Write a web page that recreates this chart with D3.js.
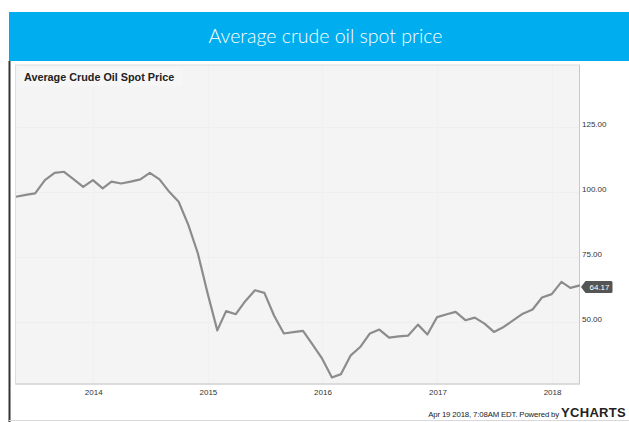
<!DOCTYPE html>
<html>
<head>
<meta charset="utf-8">
<script src="https://cdn.jsdelivr.net/npm/d3@7"></script>
<style>
  html, body { margin: 0; padding: 0; background: #fff; }
  svg { display: block; }
</style>
</head>
<body>
<svg id="chart" width="629" height="422"></svg>
<script>
// ---- Data (monthly averages) ----
const months = [
  "2013-04","2013-05","2013-06","2013-07","2013-08","2013-09","2013-10","2013-11","2013-12",
  "2014-01","2014-02","2014-03","2014-04","2014-05","2014-06","2014-07","2014-08","2014-09","2014-10","2014-11","2014-12",
  "2015-01","2015-02","2015-03","2015-04","2015-05","2015-06","2015-07","2015-08","2015-09","2015-10","2015-11","2015-12",
  "2016-01","2016-02","2016-03","2016-04","2016-05","2016-06","2016-07","2016-08","2016-09","2016-10","2016-11","2016-12",
  "2017-01","2017-02","2017-03","2017-04","2017-05","2017-06","2017-07","2017-08","2017-09","2017-10","2017-11","2017-12",
  "2018-01","2018-02","2018-03"
];
const prices = [
  98.2, 98.9, 99.5, 104.6, 107.4, 107.8, 104.9, 102.0, 104.6,
  101.4, 104.0, 103.3, 104.0, 104.9, 107.4, 104.9, 100.1, 96.3, 87.3, 76.5, 61.2,
  46.9, 54.3, 53.1, 58.1, 62.3, 61.3, 52.5, 45.7, 46.2, 46.7, 41.5, 36.0,
  28.8, 30.1, 37.3, 40.5, 45.7, 47.2, 44.1, 44.6, 44.9, 49.1, 45.3, 52.0,
  53.1, 54.0, 50.8, 51.8, 49.5, 46.3, 48.2, 50.8, 53.3, 54.9, 59.5, 60.8,
  65.5, 63.2, 64.17
];
const yTicks = [50, 75, 100, 125];
const xTickYears = [2014, 2015, 2016, 2017, 2018];
const headerTitle = "Average crude oil spot price";
const chartTitle = "Average Crude Oil Spot Price";
const lastLabel = "64.17";
const footerText = "Apr 19 2018, 7:08AM EDT. Powered by ";
const brandText = "YCHARTS";

// ---- Layout ----
const svg = d3.select("#chart");
const panel = { left: 15.5, right: 579.5, top: 65, bottom: 384 };

const parseMonth = d3.utcParse("%Y-%m");
// monthly values plotted at month end
const data = months.map((m, i) => {
  const start = parseMonth(m);
  return { date: d3.utcDay.offset(d3.utcMonth.offset(start, 1), -1), value: prices[i] };
});

const x = d3.scaleUtc()
  .domain([data[0].date, data[data.length - 1].date])
  .range([16, 580]);
const y = d3.scaleLinear()
  .domain([26.3, 148.8])
  .range([panel.bottom, panel.top]);

// Header band
svg.append("rect").attr("x", 9).attr("y", 12).attr("width", 620).attr("height", 49).attr("fill", "#00aeef");
svg.append("text").attr("x", 325.5).attr("y", 43)
  .attr("text-anchor", "middle")
  .attr("font-family", "Lato, 'Open Sans', sans-serif").attr("font-weight", 300)
  .attr("font-size", 19.5).attr("fill", "#ffffff")
  .text(headerTitle);

// outer frame: left dark line and bottom light line
svg.append("line").attr("x1", 9.5).attr("x2", 9.5).attr("y1", 61).attr("y2", 422)
  .attr("stroke", "#333").attr("stroke-width", 2);
svg.append("line").attr("x1", 9).attr("x2", 629).attr("y1", 420.5).attr("y2", 420.5)
  .attr("stroke", "#d8d8d8").attr("stroke-width", 1);

// Plot panel
svg.append("rect")
  .attr("x", panel.left).attr("y", panel.top)
  .attr("width", panel.right - panel.left).attr("height", panel.bottom - panel.top)
  .attr("fill", "#f4f4f4").attr("stroke", "#dedede").attr("stroke-width", 1);
svg.append("line").attr("x1", panel.right).attr("x2", panel.right)
  .attr("y1", panel.top).attr("y2", panel.bottom).attr("stroke", "#c8c8c8");
svg.append("line").attr("x1", panel.left).attr("x2", panel.right)
  .attr("y1", panel.bottom).attr("y2", panel.bottom).attr("stroke", "#d6d6d6").attr("stroke-width", 1.5);

// faint gridlines
const grid = svg.append("g");
grid.selectAll("line.h").data(yTicks).join("line")
  .attr("x1", panel.left + 1).attr("x2", panel.right - 1)
  .attr("y1", d => Math.round(y(d)) + 0.5).attr("y2", d => Math.round(y(d)) + 0.5)
  .attr("stroke", "#eeeeee");
grid.selectAll("line.v").data(xTickYears).join("line")
  .attr("x1", d => Math.round(x(Date.UTC(d, 0, 1))) + 0.5)
  .attr("x2", d => Math.round(x(Date.UTC(d, 0, 1))) + 0.5)
  .attr("y1", panel.top + 1).attr("y2", panel.bottom - 1)
  .attr("stroke", "#f0f0f0");

// Chart title with light backing
svg.append("rect").attr("x", 20).attr("y", 68).attr("width", 162).attr("height", 18).attr("fill", "#f6f6f6");
svg.append("text").attr("x", 24).attr("y", 80.5)
  .attr("font-family", "'Liberation Sans', Arial, sans-serif").attr("font-weight", "bold")
  .attr("font-size", 10.8).attr("fill", "#222")
  .text(chartTitle);

// Line
const line = d3.line().x(d => x(d.date)).y(d => y(d.value));
svg.append("path").datum(data)
  .attr("d", line)
  .attr("fill", "none").attr("stroke", "#8c8c8c").attr("stroke-width", 2.2)
  .attr("stroke-linejoin", "round");

// Y axis (right)
const yAxis = d3.axisRight(y).tickValues(yTicks).tickSize(0).tickPadding(0)
  .tickFormat(d3.format(".2f"));
const yg = svg.append("g").attr("transform", `translate(582,-3)`).call(yAxis);
yg.select(".domain").remove();
yg.selectAll("text").attr("font-family", "'Liberation Sans', Arial, sans-serif")
  .attr("font-size", 8).attr("fill", "#333").attr("dy", "0.32em");

// X axis
const xAxis = d3.axisBottom(x)
  .tickValues(xTickYears.map(yr => new Date(Date.UTC(yr, 0, 1))))
  .tickSize(0).tickPadding(0)
  .tickFormat(d3.utcFormat("%Y"));
const xg = svg.append("g").attr("transform", `translate(0,389)`).call(xAxis);
xg.select(".domain").remove();
xg.selectAll("text").attr("font-family", "'Liberation Sans', Arial, sans-serif")
  .attr("font-size", 8).attr("fill", "#333").attr("dy", "0.71em");

// Last value badge
const last = data[data.length - 1];
const by = y(last.value) + 1.5;
const bx = 581;
svg.append("path")
  .attr("d", `M${bx},${by} L${bx + 4.5},${by - 6} L${bx + 30},${by - 6} Q${bx + 31.5},${by - 6} ${bx + 31.5},${by - 4.5} L${bx + 31.5},${by + 4.5} Q${bx + 31.5},${by + 6} ${bx + 30},${by + 6} L${bx + 4.5},${by + 6} Z`)
  .attr("fill", "#555");
svg.append("text").attr("x", bx + 18.5).attr("y", by)
  .attr("text-anchor", "middle").attr("dy", "0.34em")
  .attr("font-family", "'Liberation Sans', Arial, sans-serif")
  .attr("font-size", 8).attr("fill", "#fff")
  .text(lastLabel);

// Footer
const footer = svg.append("text").attr("x", 626).attr("y", 417)
  .attr("text-anchor", "end")
  .attr("font-family", "'Liberation Sans', Arial, sans-serif").attr("fill", "#222");
footer.append("tspan").attr("font-size", 7.8).attr("letter-spacing", -0.15).text(footerText);
footer.append("tspan").attr("font-size", 13).attr("font-weight", "bold").attr("letter-spacing", 0.3).text(brandText);
</script>
</body>
</html>
